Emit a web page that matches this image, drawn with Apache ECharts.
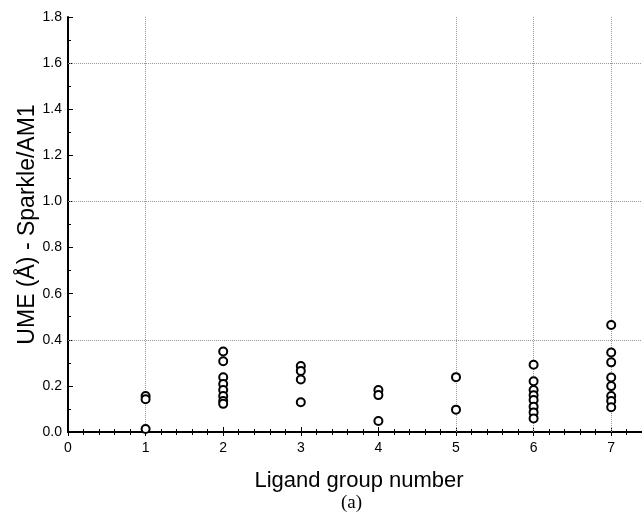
<!DOCTYPE html>
<html>
<head>
<meta charset="utf-8">
<script src="https://cdn.jsdelivr.net/npm/echarts@6/dist/echarts.min.js"></script>
<style>
html,body{margin:0;padding:0;background:#fff;}
#chart{width:642px;height:519px;}
</style>
</head>
<body>
<div id="chart"></div>
<script>
// Ligand group number -> UME values
const group1 = [0.156, 0.142, 0.013];
const group2 = [0.349, 0.307, 0.237, 0.208, 0.182, 0.156, 0.134, 0.122];
const group3 = [0.286, 0.265, 0.228, 0.129];
const group4 = [0.182, 0.160, 0.048];
const group5 = [0.238, 0.097];
const group6 = [0.292, 0.220, 0.182, 0.159, 0.139, 0.110, 0.085, 0.059];
const group7 = [0.464, 0.345, 0.302, 0.236, 0.199, 0.156, 0.135, 0.107];
const groups = [group1, group2, group3, group4, group5, group6, group7];
const yGridValues = [0.4, 1.0, 1.6];
const xGridValues = [1, 5, 6, 7];

const points = [];
groups.forEach((g, i) => g.forEach(v => points.push([i + 1, v])));

const chart = echarts.init(document.getElementById('chart'));
const axisFont = {fontFamily: 'Liberation Sans, Arial, sans-serif', fontSize: 14, color: '#000'};
chart.setOption({
  animation: false,
  grid: {left: 68, top: 17, right: -8, bottom: 87, containLabel: false, outerBoundsMode: 'none'},
  xAxis: [{
    type: 'value', min: 0, max: 7.5, interval: 1,
    axisLine: {show: true, onZero: false, lineStyle: {color: '#000', width: 2}},
    axisTick: {show: true, inside: true, length: 5, lineStyle: {color: '#000'}},
    minorTick: {show: true, splitNumber: 5, length: 3, lineStyle: {color: '#000'}},
    splitLine: {show: false},
    axisLabel: Object.assign({margin: 9, formatter: v => (v <= 7 ? String(v) : '')}, axisFont),
    name: 'Ligand group number', nameLocation: 'middle', nameGap: 38, nameMoveOverlap: false,
    nameTextStyle: {fontFamily: 'Liberation Sans, Arial, sans-serif', fontSize: 22, color: '#000'}
  }, {
    type: 'value', position: 'top', min: 0, max: 7.5, interval: 1,
    axisLine: {show: true, lineStyle: {color: '#000', width: 2}},
    axisTick: {show: true, inside: true, length: 4, lineStyle: {color: '#000'}},
    minorTick: {show: true, splitNumber: 5, length: 3, lineStyle: {color: '#000'}},
    splitLine: {show: false},
    axisLabel: {show: false}
  }],
  yAxis: {
    type: 'value', min: 0, max: 1.8, interval: 0.2,
    axisLine: {show: true, onZero: false, lineStyle: {color: '#000', width: 2}},
    axisTick: {show: true, inside: true, length: 5, lineStyle: {color: '#000'}},
    minorTick: {show: true, splitNumber: 2, length: 3, lineStyle: {color: '#000'}},
    splitLine: {show: false},
    axisLabel: Object.assign({margin: 6, formatter: v => v.toFixed(1)}, axisFont),
    name: 'UME (Å) - Sparkle/AM1', nameLocation: 'middle', nameGap: 29, nameRotate: 90,
    nameMoveOverlap: false,
    nameTextStyle: {fontFamily: 'Liberation Sans, Arial, sans-serif', fontSize: 23, color: '#000'}
  },
  graphic: [{
    type: 'text', left: 341, top: 494,
    style: {text: '(a)', font: '19px "Liberation Serif", "Times New Roman", serif', fill: '#000'}
  }],
  series: [{
    type: 'scatter',
    data: points,
    symbol: 'circle',
    symbolSize: 8,
    itemStyle: {color: '#fff', borderColor: '#000', borderWidth: 2, opacity: 1},
    markLine: {
      silent: true, symbol: 'none', label: {show: false}, animation: false,
      lineStyle: {color: '#999', type: 'dotted', width: 1},
      data: yGridValues.map(v => ({yAxis: v})).concat(xGridValues.map(v => ({xAxis: v})))
    },
    z: 5
  }]
});
</script>
</body>
</html>
